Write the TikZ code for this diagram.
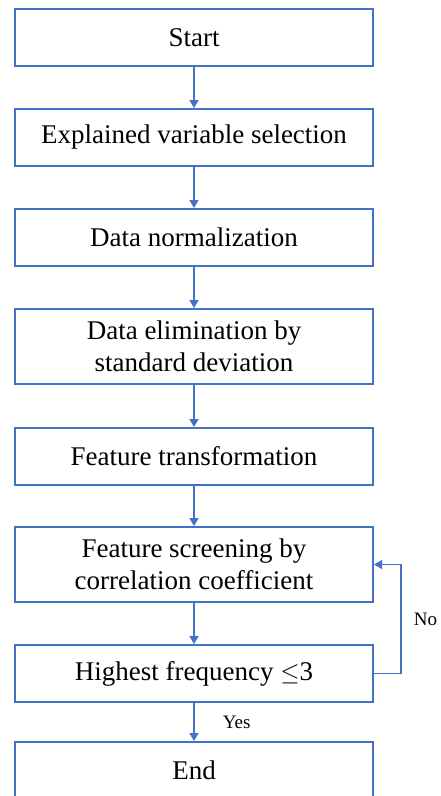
\documentclass[tikz,border=0pt]{standalone}
\usepackage{fontspec}
\setmainfont{Liberation Serif}
\usetikzlibrary{positioning,arrows.meta}
\definecolor{boxblue}{HTML}{4472C4}
\begin{document}
\begin{tikzpicture}[x=1pt,y=1pt]
\tikzstyle{arrow} 	= [line width = 1.6pt, color = boxblue, -{Triangle[width=9pt,length=8pt]}] % define standard arrow
\tikzstyle{block} 	= [draw = boxblue, line width = 2pt, rectangle, minimum width = 358pt, minimum height = 57pt, align = center, font = \fontsize{27}{31.5}\selectfont] % define block
\tikzstyle{tallblock}	= [block, minimum height = 75pt] % block with two lines
\tikzstyle{lbl}		= [inner sep = 0pt, text = black, font = \fontsize{19}{22}\selectfont] % branch labels

% fix picture size
\useasboundingbox (0,0) rectangle (440,-796);
\clip (0,0) rectangle (440,-796);

% define blocks from top to bottom
\node(start)[block] at (194,-37.5){Start};
\node(expl)[block, below = 41pt of start]{Explained variable selection};
\node(norm)[block, below = 41pt of expl]{Data normalization};
\node(elim)[tallblock, below = 41pt of norm]{Data elimination by\\standard deviation};
\node(trans)[block, below = 42pt of elim]{Feature transformation};
\node(screen)[tallblock, below = 40pt of trans]{Feature screening by\\correlation coefficient};
\node(high)[block, below = 41pt of screen]{Highest frequency $\leq$3};
\node(end)[block, below = 38pt of high]{End};

% connect blocks
\draw[arrow](start)--(expl);
\draw[arrow](expl)--(norm);
\draw[arrow](norm)--(elim);
\draw[arrow](elim)--(trans);
\draw[arrow](trans)--(screen);
\draw[arrow](screen)--(high);
\draw[arrow](high)--node[lbl, right = 28pt]{Yes}(end);

% feedback loop
\draw[arrow](high.east)--++(27pt,0)|-node[lbl, pos = 0.25, right = 12pt]{No}(screen.east);
\end{tikzpicture}
\end{document}
